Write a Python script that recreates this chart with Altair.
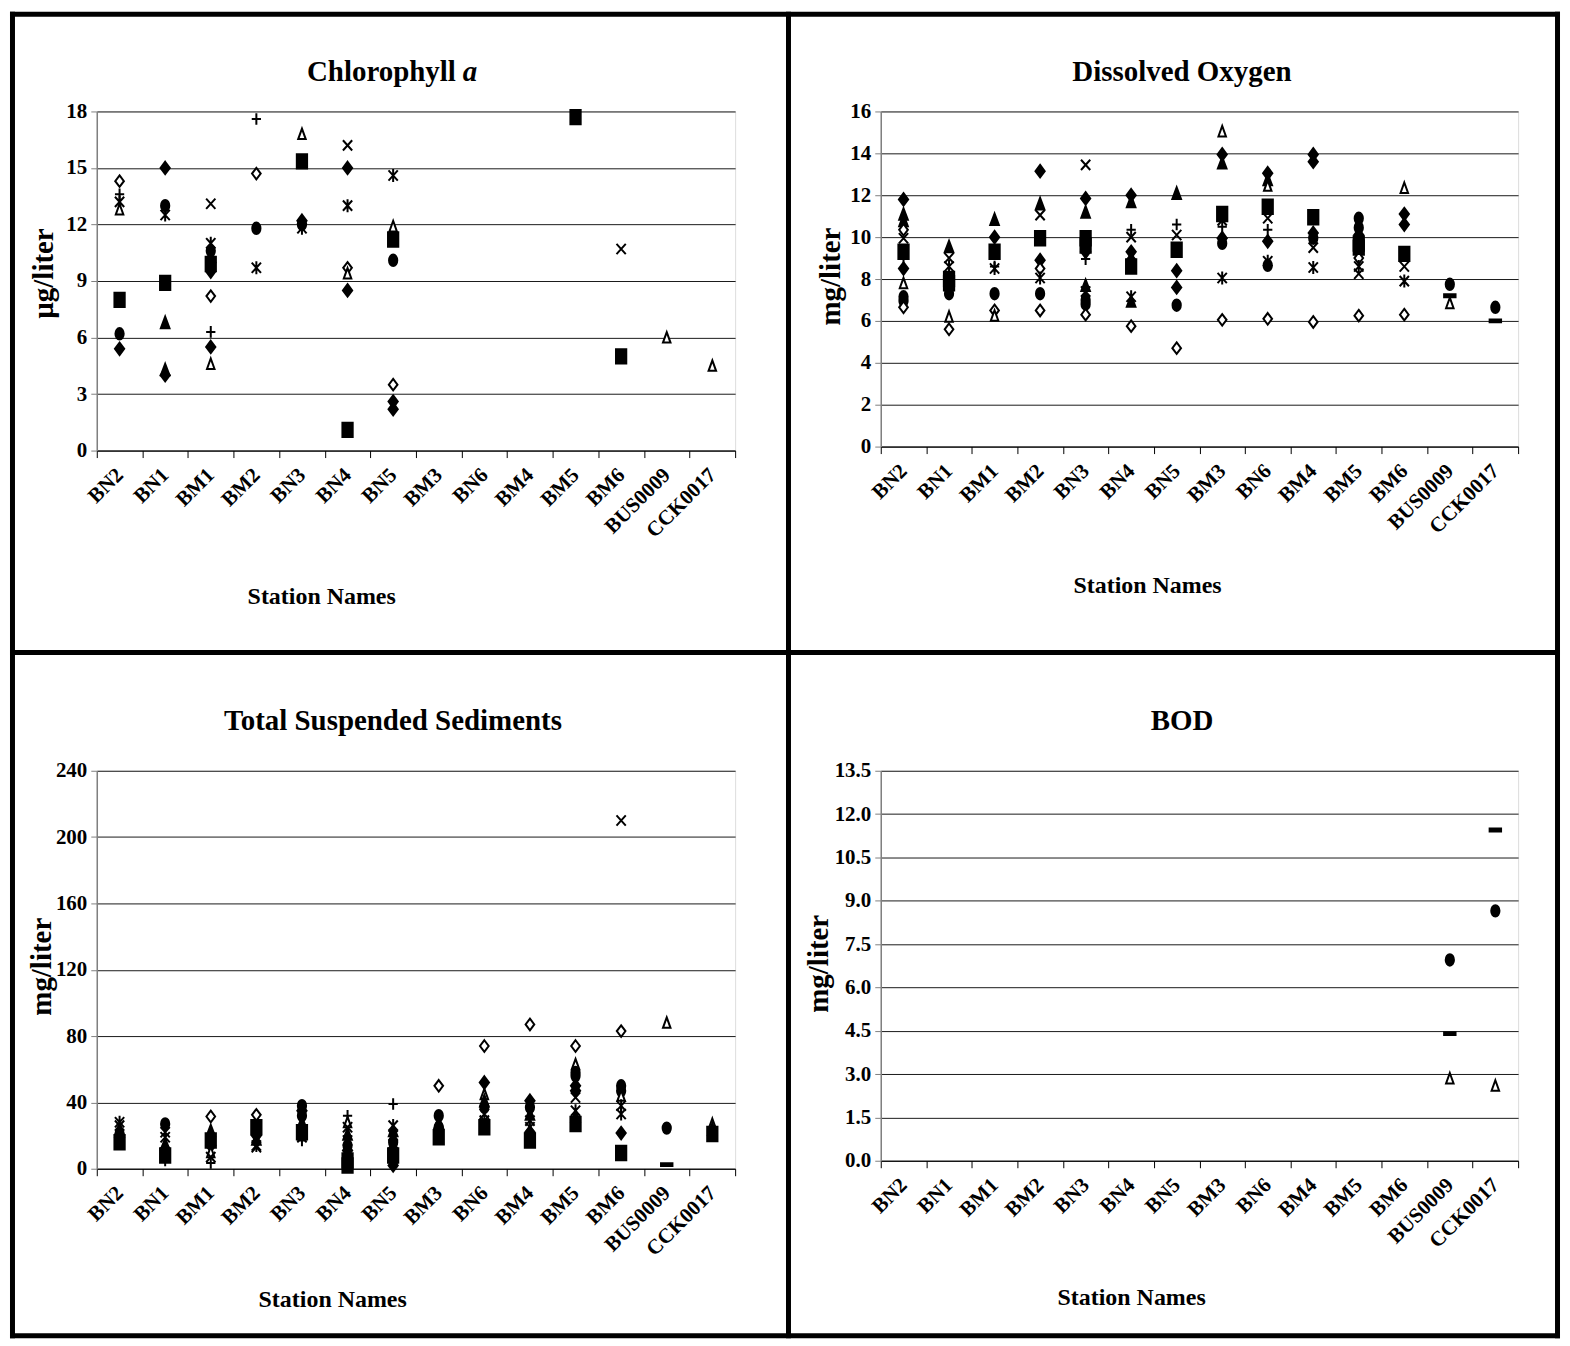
import altair as alt
import pandas as pd

FONT = "Liberation Serif"

STATIONS = ["BN2", "BN1", "BM1", "BM2", "BN3", "BN4", "BN5",
            "BM3", "BN6", "BM4", "BM5", "BM6", "BUS0009", "CCK0017"]

# marker codes: D filled diamond, S square, T filled triangle, X cross, A asterisk,
# C circle, P plus, M dash, d open diamond, t open triangle
MARKER_CODES = ["D", "S", "T", "X", "A", "C", "P", "M", "d", "t"]

# ---------------- Chlorophyll a (ug/liter) ----------------
CHL_MARKERS = [
    ["d", "P", "A", "t", "S", "C", "D"],
    ["D", "C", "A", "S", "T", "T", "D"],
    ["X", "A", "C", "T", "D", "S", "C", "D", "d", "P", "D", "t"],
    ["P", "d", "C", "A"],
    ["t", "S", "D", "C", "A"],
    ["X", "D", "A", "d", "t", "D", "S"],
    ["A", "t", "S", "C", "d", "D", "D"],
    [], [], [],
    ["S"],
    ["X", "S"],
    ["t"],
    ["t"],
]
CHL_VALUES = [
    [14.3, 13.6, 13.2, 12.8, 8.0, 6.2, 5.4],
    [15.0, 13.0, 12.5, 8.9, 6.8, 4.3, 4.0],
    [13.1, 11.0, 10.6, 10.3, 10.0, 9.9, 9.7, 9.5, 8.2, 6.3, 5.5, 4.6],
    [17.6, 14.7, 11.8, 9.7],
    [16.8, 15.35, 12.2, 12.0, 11.8],
    [16.2, 15.0, 13.0, 9.7, 9.4, 8.5, 1.1],
    [14.6, 11.9, 11.2, 10.1, 3.5, 2.6, 2.2],
    [], [], [],
    [17.7],
    [10.7, 5.0],
    [6.0],
    [4.5],
]

# ---------------- Dissolved Oxygen (mg/liter) ----------------
DO_MARKERS = [
    ["D", "T", "T", "d", "X", "S", "P", "D", "t", "C", "C", "d"],
    ["T", "X", "A", "S", "S", "C", "C", "t", "d"],
    ["T", "D", "S", "P", "A", "C", "d", "t"],
    ["D", "T", "X", "S", "D", "d", "A", "C", "d"],
    ["X", "D", "T", "S", "S", "D", "P", "T", "A", "C", "C", "d"],
    ["D", "T", "P", "X", "D", "D", "S", "A", "T", "d"],
    ["T", "P", "X", "S", "D", "D", "C", "d"],
    ["t", "D", "T", "S", "X", "P", "D", "C", "A", "d"],
    ["D", "T", "t", "S", "X", "P", "D", "A", "C", "d"],
    ["D", "D", "S", "D", "C", "X", "A", "d"],
    ["C", "C", "D", "S", "S", "d", "A", "X", "d"],
    ["t", "D", "D", "S", "X", "A", "d"],
    ["C", "M", "t"],
    ["C", "M"],
]
DO_VALUES = [
    [11.8, 11.1, 10.8, 10.35, 9.95, 9.3, 9.0, 8.5, 7.8, 7.15, 6.95, 6.65],
    [9.55, 9.0, 8.6, 8.0, 7.8, 7.6, 7.3, 6.2, 5.6],
    [10.85, 10.0, 9.3, 8.6, 8.5, 7.3, 6.5, 6.25],
    [13.15, 11.6, 11.05, 9.95, 8.9, 8.5, 8.05, 7.3, 6.5],
    [13.45, 11.85, 11.2, 9.95, 9.6, 9.3, 8.95, 7.7, 7.4, 7.0, 6.8, 6.3],
    [12.0, 11.7, 10.35, 10.0, 9.3, 8.9, 8.6, 7.15, 6.95, 5.75],
    [12.1, 10.6, 10.1, 9.4, 8.4, 7.6, 6.75, 4.7],
    [15.05, 13.95, 13.55, 11.1, 10.8, 10.5, 9.95, 9.7, 8.05, 6.05],
    [13.05, 12.75, 12.45, 11.45, 10.9, 10.35, 9.8, 8.85, 8.65, 6.1],
    [13.95, 13.6, 10.95, 10.2, 9.95, 9.5, 8.55, 5.95],
    [10.9, 10.45, 10.1, 9.7, 9.5, 9.0, 8.6, 8.25, 6.25],
    [12.35, 11.1, 10.6, 9.2, 8.6, 7.9, 6.3],
    [7.75, 7.2, 6.85],
    [6.65, 6.0],
]

# ---------------- Total Suspended Sediments (mg/liter) ----------------
TSS_MARKERS = [
    ["A", "X", "T", "C", "D", "S"],
    ["C", "A", "X", "T", "D", "S", "P"],
    ["d", "T", "C", "S", "D", "t", "X", "P"],
    ["d", "S", "C", "D", "T", "A", "X"],
    ["C", "D", "C", "T", "D", "S", "X", "P"],
    ["P", "t", "X", "T", "A", "C", "D", "S", "S"],
    ["P", "A", "T", "X", "C", "D", "S", "C", "D"],
    ["d", "C", "T", "C", "S"],
    ["d", "D", "t", "T", "C", "A", "X", "S"],
    ["d", "D", "C", "T", "X", "A", "D", "S"],
    ["d", "t", "C", "C", "D", "D", "X", "A", "T", "S"],
    ["X", "d", "C", "C", "t", "A", "A", "D", "S"],
    ["t", "C", "M"],
    ["t", "T", "C", "S"],
]
TSS_VALUES = [
    [28, 26, 24, 21, 19, 16],
    [27, 22, 19, 15, 12, 8, 5],
    [31.5, 23, 19, 17, 14, 10, 7, 3.5],
    [32.5, 25, 23, 20, 18, 14, 13],
    [38, 35, 32, 28, 25, 22, 19, 17],
    [32, 28, 25, 21, 17, 14, 11, 5, 2],
    [39, 26, 23, 20, 16, 12, 8, 5, 2],
    [50, 32, 28, 25, 19],
    [74, 52, 45, 41, 37, 33, 29, 25],
    [87, 41, 37, 33, 29, 25, 22, 17],
    [74, 63, 58, 56, 50, 47, 43, 35, 32, 27],
    [210, 83, 50, 47, 44, 38, 33, 21.5, 9.5],
    [88, 24.5, 2.5],
    [27, 24, 22, 21],
]

# ---------------- BOD (mg/liter) ----------------
BOD_MARKERS = [[], [], [], [], [], [], [], [], [], [], [], [],
               ["C", "M", "t"],
               ["M", "C", "t"]]
BOD_VALUES = [[], [], [], [], [], [], [], [], [], [], [], [],
              [6.95, 4.4, 2.85],
              [11.45, 8.65, 2.6]]


def ellipse(a, b):
    k = 0.5523
    return (f"M{a},0C{a},{b*k:.3f} {a*k:.3f},{b} 0,{b}"
            f"C{-a*k:.3f},{b} {-a},{b*k:.3f} {-a},0"
            f"C{-a},{-b*k:.3f} {-a*k:.3f},{-b} 0,{-b}"
            f"C{a*k:.3f},{-b} {a},{-b*k:.3f} {a},0Z")


SHAPES = {
    "D": "M0,-0.86L0.64,0L0,0.86L-0.64,0Z",
    "S": "M-0.71,-1L0.71,-1L0.71,1L-0.71,1Z",
    "T": "M0,-0.8L0.6,0.8L-0.6,0.8Z",
    "X": "M-0.64,-0.71L0.64,0.71M-0.64,0.71L0.64,-0.71",
    "A": "M-0.64,-0.71L0.64,0.71M-0.64,0.71L0.64,-0.71M0,-0.9L0,0.9",
    "C": ellipse(0.57, 0.79),
    "P": "M-0.64,0L0.64,0M0,-0.8L0,0.8",
    "M": "M-0.79,-0.2L0.79,-0.2L0.79,0.2L-0.79,0.2Z",
    "d": "M0,-0.8L0.6,0L0,0.8L-0.6,0Z",
    "t": "M0,-0.75L0.52,0.7L-0.52,0.7Z",
}
FILLS = {"D": "black", "S": "black", "T": "black", "C": "black", "M": "black",
         "d": "white", "t": "white",
         "X": "transparent", "A": "transparent", "P": "transparent"}

ONE = pd.DataFrame({"k": [0]})


def build(markers, values):
    rows = []
    for st, ms, vs in zip(STATIONS, markers, values):
        for m, v in zip(ms, vs):
            rows.append({"station": st, "marker": m, "value": v})
    return pd.DataFrame(rows)


def text(txt, x, y, size, align="center", style="normal"):
    return alt.Chart(ONE).mark_text(
        text=txt, font=FONT, fontSize=size, fontWeight="bold", fontStyle=style,
        align=align, baseline="alphabetic", color="black"
    ).encode(x=alt.value(x), y=alt.value(y))


def rule(x1, y1, x2, y2):
    return alt.Chart(ONE).mark_rule(color="black", strokeWidth=5, strokeCap="square").encode(
        x=alt.value(x1), x2=alt.value(x2), y=alt.value(y1), y2=alt.value(y2))


def panel(markers, values, ymax, ystep, yfmt, w, h, ytitle, ytitle_pos, xtitle_pos, titles):
    df = build(markers, values)
    n = int(round(ymax / ystep))
    ticks = [round(i * ystep, 3) for i in range(n + 1)]
    xaxis = alt.Axis(
        title="Station Names", titleFont=FONT, titleFontSize=24, titleFontWeight="bold",
        titleColor="black", titleX=xtitle_pos[0], titleY=xtitle_pos[1],
        titleAlign="center", titleBaseline="middle", titleAngle=0,
        labelFont=FONT, labelFontSize=21, labelFontWeight="bold", labelColor="black",
        labelAngle=-45, labelAlign="right", labelBaseline="middle", labelPadding=14,
        labelOverlap=False, tickBand="extent", tickSize=7, tickColor="black",
        domainColor="black", domainWidth=1, grid=False,
    )
    yaxis = alt.Axis(
        title=ytitle, titleFont=FONT, titleFontSize=29, titleFontWeight="bold",
        titleColor="black", titleX=ytitle_pos[0], titleY=ytitle_pos[1],
        titleAngle=-90, titleAlign="center", titleBaseline="middle",
        values=ticks, format=yfmt,
        labelFont=FONT, labelFontSize=21, labelFontWeight="bold", labelColor="black",
        labelPadding=4, labelOverlap=False, tickSize=6, tickColor="#808080",
        domainColor="#808080", domainWidth=1.5,
        grid=True, gridColor="#1a1a1a", gridWidth=1,
    )
    pts = alt.Chart(df).mark_point(
        opacity=1, filled=True, stroke="black", strokeWidth=2, size=210
    ).encode(
        x=alt.X("station:N", sort=STATIONS,
                scale=alt.Scale(domain=STATIONS, paddingInner=0, paddingOuter=0),
                axis=xaxis),
        y=alt.Y("value:Q", scale=alt.Scale(domain=[0, ymax], nice=False, zero=True),
                axis=yaxis),
        shape=alt.Shape("marker:N",
                        scale=alt.Scale(domain=MARKER_CODES,
                                        range=[SHAPES[c] for c in MARKER_CODES]),
                        legend=None),
        fill=alt.Fill("marker:N",
                      scale=alt.Scale(domain=MARKER_CODES,
                                      range=[FILLS[c] for c in MARKER_CODES]),
                      legend=None),
    )
    return [pts] + titles, w, h


# frame (drawn from the top-left panel, in its pixel frame)
L, T, R, B = -84.5, -97.5, 1464.5, 1227.5
VX, HY = 693.5, 542.5
frame = [rule(L, T, R, T), rule(L, B, R, B), rule(L, T, L, B), rule(R, T, R, B),
         rule(VX, T, VX, B), rule(L, HY, R, HY)]

l1, w1, h1 = panel(CHL_MARKERS, CHL_VALUES, 18, 3, "d", 640, 340, "µg/liter",
                   (-53, 162), (225, 146),
                   [text("Chlorophyll", 360, -31, 29, align="right"),
                    text("a", 367, -31, 29, align="left", style="italic")])
p1 = alt.layer(*(l1 + frame)).properties(width=w1, height=h1)

l2, w2, h2 = panel(DO_MARKERS, DO_VALUES, 16, 2, "d", 639, 336, "mg/liter",
                   (-50, 165), (267, 139),
                   [text("Dissolved Oxygen", 302, -31, 29)])
p2 = alt.layer(*l2).properties(width=w2, height=h2)

l3, w3, h3 = panel(TSS_MARKERS, TSS_VALUES, 240, 40, "d", 640, 399, "mg/liter",
                   (-55, 196), (236, 131),
                   [text("Total Suspended Sediments", 297, -41, 29)])
p3 = alt.layer(*l3).properties(width=w3, height=h3)

l4, w4, h4 = panel(BOD_MARKERS, BOD_VALUES, 13.5, 1.5, ".1f", 639, 391, "mg/liter",
                   (-62, 193), (251, 137),
                   [text("BOD", 302, -41, 29)])
p4 = alt.layer(*l4).properties(width=w4, height=h4)

chart = alt.concat(
    p1, p2, p3, p4, columns=2,
    spacing={"row": 321, "column": 146},
    bounds="flush", align="each", padding=0,
).configure_view(stroke="transparent").configure(background="white")

chart.save("out.html", embed_options={"renderer": "svg", "actions": False})
